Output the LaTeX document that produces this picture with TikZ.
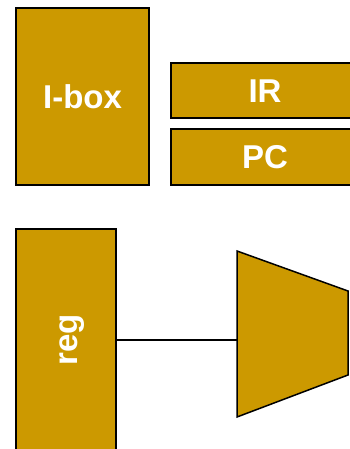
\documentclass[tikz,border=0pt]{standalone}
\usepackage{fontspec}
\setmainfont{Liberation Sans}
\definecolor{gold}{HTML}{CC9900}
\begin{document}
\begin{tikzpicture}[x=1pt,y=-1pt,
  blk/.style={draw=black,line width=1.5pt,fill=gold},
  lbl/.style={text=white,font=\fontsize{33}{33}\selectfont\bfseries,inner sep=0pt}]
\useasboundingbox (0,0) rectangle (350,449);
\begin{scope}
\clip (0,0) rectangle (350,449);
\draw[blk] (16,8) rectangle (149,185);
\node[lbl] (ibox) at (82.5,97) {I-box};
\draw[blk] (171,63) rectangle (360,118);
\node[lbl] (ir) at (265,91) {IR};
\draw[blk] (171,129) rectangle (360,185);
\node[lbl] (pc) at (265,157) {PC};
\draw[blk] (16,229) rectangle (116,460);
\node[lbl,rotate=90] (reg) at (72,340) {reg};
\coordinate (regout) at (116,340);
\draw[blk,line join=miter] (237,251) -- (348,291) -- (348,375) -- (237,417) -- cycle;
\coordinate (muxin) at (237,340);
\draw[line width=1.5pt] (regout) -- (muxin);
\end{scope}
\end{tikzpicture}
\end{document}
